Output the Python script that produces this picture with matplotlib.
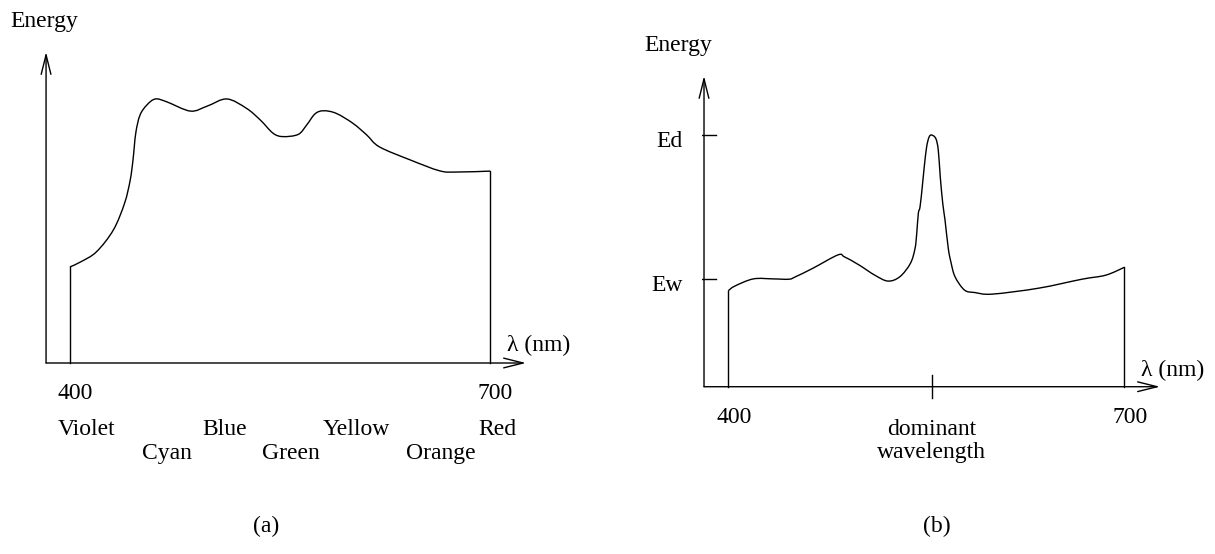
import matplotlib.pyplot as plt
from matplotlib.path import Path
from matplotlib.patches import PathPatch

plt.rcParams['font.family'] = ['Liberation Serif', 'DejaVu Serif']
plt.rcParams['font.size'] = 17

# (a) spectrum of white-ish light, energy in arbitrary units (0..100 = axis)
wl_a = [400, 408, 419, 431, 439, 443, 445, 447, 450, 455, 461, 469, 486, 498,
        512, 526, 536, 545, 552, 563, 569, 575, 581, 590, 602, 612, 621, 643,
        664, 676, 700]
en_a = [30.9, 32.6, 35.8, 42.8, 51.4, 58.8, 65.3, 74.0, 79.7, 83.0, 84.9,
        84.0, 81.0, 82.6, 84.9, 81.9, 78.1, 73.9, 72.8, 73.5, 76.5, 80.1,
        81.1, 80.3, 77.1, 73.3, 69.5, 65.3, 61.8, 61.4, 61.7]

colour_row1 = ['Violet', 'Blue', 'Yellow', 'Red']
colour_row1_wl = [391.4, 494.3, 580.7, 691.4]
colour_row2 = ['Cyan', 'Green', 'Orange']
colour_row2_wl = [451.4, 537.1, 640.0]

# (b) spectrum with a dominant wavelength
wl_b = [400, 405, 419, 434, 446, 451, 464, 483, 488, 499, 511, 521, 530, 538,
        541.5, 542.8, 544, 545.3, 547, 548.5, 550.3, 552.1, 554, 557.2, 559.1,
        560.6, 562.5, 564.2, 566.7, 568.7, 571.8, 579, 587, 600, 635, 668,
        686, 700]
en_b = [30.9, 32.4, 34.7, 34.7, 34.6, 35.4, 38.1, 42.4, 41.8, 39.2, 35.9,
        34.0, 35.4, 39.7, 44.5, 49.4, 55.8, 57.9, 64.4, 70.8, 77.2, 80.3,
        81.0, 79.9, 76.2, 67.6, 59.0, 53.7, 44.5, 40.1, 35.4, 31.1, 30.3,
        29.8, 31.7, 34.6, 35.9, 38.4]
Ed = 81.0
Ew = 34.6
dominant = 554

W, H = 1215, 554
fig = plt.figure(figsize=(W / 100, H / 100), dpi=100)


def axes_px(x0, x1, y0, y1):
    # pixel box (left, right, top, bottom) -> figure fraction
    return [x0 / W, 1 - y1 / H, (x1 - x0) / W, (y1 - y0) / H]


arrow = dict(arrowstyle='->,head_length=1.4,head_width=0.35',
             mutation_scale=10, shrinkA=0, shrinkB=0, lw=1.0, color='black')


def draw_axes(ax, x_org, x_tip):
    ax.annotate('', xy=(x_org, 100), xytext=(x_org, 0), arrowprops=arrow)
    ax.annotate('', xy=(x_tip, 0), xytext=(x_org, 0), arrowprops=arrow)


def smooth_path(xs, ys):
    # Catmull-Rom through the points, written as cubic Bezier segments
    pts = list(zip(xs, ys))
    verts = [pts[0]]
    codes = [Path.MOVETO]
    n = len(pts)
    for i in range(n - 1):
        p0 = pts[max(i - 1, 0)]
        p1 = pts[i]
        p2 = pts[i + 1]
        p3 = pts[min(i + 2, n - 1)]
        c1 = (p1[0] + (p2[0] - p0[0]) / 6, p1[1] + (p2[1] - p0[1]) / 6)
        c2 = (p2[0] - (p3[0] - p1[0]) / 6, p2[1] - (p3[1] - p1[1]) / 6)
        verts += [c1, c2, p2]
        codes += [Path.CURVE4] * 3
    return Path(verts, codes)


def draw_curve(ax, wl, en):
    ax.add_patch(PathPatch(smooth_path(wl, en), facecolor='none',
                           edgecolor='black', lw=1.0))
    ax.plot([wl[0], wl[0]], [0, en[0]], color='black', lw=1.0)
    ax.plot([wl[-1], wl[-1]], [0, en[-1]], color='black', lw=1.0)


# ---- (a) ----
ax1 = fig.add_axes(axes_px(42, 532, 20.9, 394.1))
ax1.set_xlim(380, 730)
ax1.set_ylim(-10, 110)
ax1.axis('off')
draw_axes(ax1, 382.9, 725.7)
draw_curve(ax1, wl_a, en_a)

ax1.text(381.4, 107.9, 'Energy', ha='center', va='baseline')
ax1.text(712.1, 3.9, 'λ (nm)', ha='left', va='baseline')
ax1.text(403.9, -11.6, '400', ha='center', va='baseline')
ax1.text(703.9, -11.6, '700', ha='center', va='baseline')
for name, w in zip(colour_row1, colour_row1_wl):
    ax1.text(w, -23.2, name, ha='left', va='baseline')
for name, w in zip(colour_row2, colour_row2_wl):
    ax1.text(w, -30.9, name, ha='left', va='baseline')

# ---- (b) ----
ax2 = fig.add_axes(axes_px(701.9, 1163.8, 44.9, 417.8))
ax2.set_xlim(380, 730)
ax2.set_ylim(-10, 110)
ax2.axis('off')
draw_axes(ax2, 381.6, 727.1)
draw_curve(ax2, wl_b, en_b)

for lvl, lab, base in [(Ed, 'Ed', 77.2), (Ew, 'Ew', 30.8)]:
    ax2.plot([372.4, 390.6], [lvl, lvl], color='black', lw=1.0)
    ax2.text(365.5, base, lab, ha='right', va='baseline')
ax2.plot([dominant, dominant], [-3.6, 3.8], color='black', lw=1.0)

ax2.text(362.3, 107.9, 'Energy', ha='center', va='baseline')
ax2.text(712.7, 3.4, 'λ (nm)', ha='left', va='baseline')
ax2.text(404.3, -11.8, '400', ha='center', va='baseline')
ax2.text(704.8, -11.8, '700', ha='center', va='baseline')
ax2.text(dominant, -15.5, 'dominant', ha='center', va='baseline')
ax2.text(dominant, -23.0, 'wavelength', ha='center', va='baseline')

fig.text(266 / W, 1 - 526 / H, '(a)', ha='center', va='center')
fig.text(937 / W, 1 - 526 / H, '(b)', ha='center', va='center')

fig.savefig('out.png', dpi=100)
